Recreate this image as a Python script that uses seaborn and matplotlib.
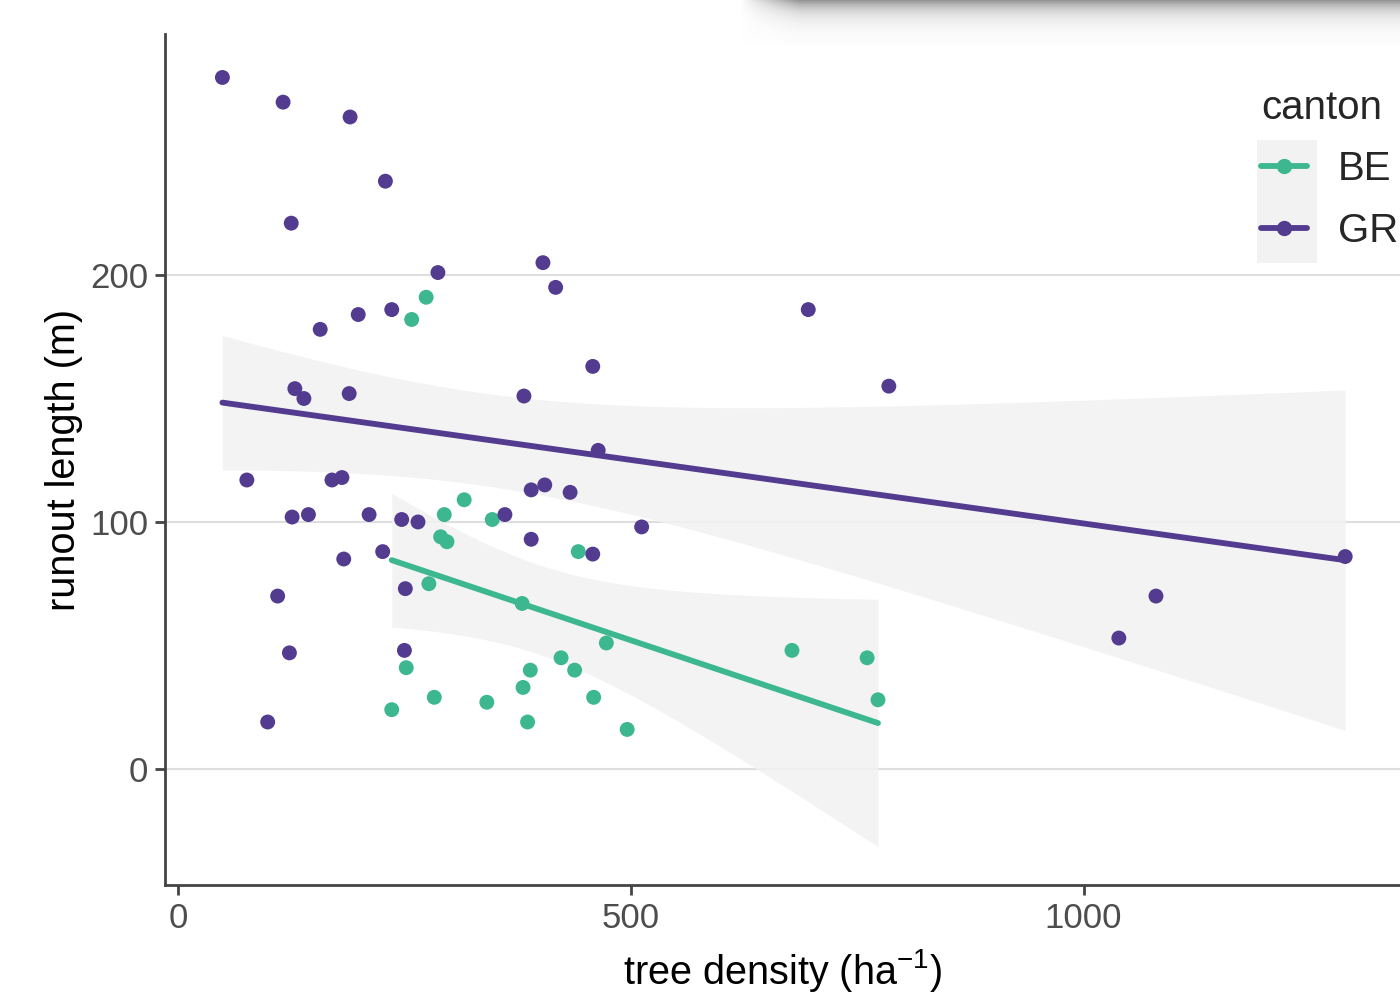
import numpy as np
import pandas as pd
import seaborn as sns
import matplotlib.pyplot as plt
from matplotlib.lines import Line2D
from matplotlib.patches import Rectangle

## data

gr_density = [49, 116, 190, 229, 125, 287, 403, 417, 236, 199, 696, 157, 458, 785, 129,
              139, 189, 382, 464, 76, 170, 181, 390, 405, 433, 126, 144, 211, 247, 265,
              361, 512, 390, 226, 458, 183, 251, 110, 1080, 123, 250, 1039, 99, 1289]
gr_runout = [280, 270, 264, 238, 221, 201, 205, 195, 186, 184, 186, 178, 163, 155, 154,
             150, 152, 151, 129, 117, 117, 118, 113, 115, 112, 102, 103, 103, 101, 100,
             103, 98, 93, 88, 87, 85, 73, 70, 70, 47, 48, 53, 19, 86]

be_density = [274, 258, 316, 294, 347, 290, 297, 442, 277, 380, 252, 389, 423, 438, 473,
              678, 761, 773, 381, 283, 341, 459, 236, 386, 496]
be_runout = [191, 182, 109, 103, 101, 94, 92, 88, 75, 67, 41, 40, 45, 40, 51,
             48, 45, 28, 33, 29, 27, 29, 24, 19, 16]

cantons = ["BE", "GR"]
palette = {"BE": "#3DB78F", "GR": "#533B90"}

df = pd.DataFrame({
    "density": be_density + gr_density,
    "runout": be_runout + gr_runout,
    "canton": ["BE"] * len(be_density) + ["GR"] * len(gr_density),
})


def t_quantile(df_resid, p=0.975):
    try:
        from scipy import stats
        return stats.t.ppf(p, df_resid)
    except ImportError:
        z = 1.959964
        return (z + (z**3 + z) / (4 * df_resid)
                + (5 * z**5 + 16 * z**3 + 3 * z) / (96 * df_resid**2))


def lm_band(x, y, n=80):
    # same band as an lm smoother with a 95% confidence interval
    x = np.asarray(x, float)
    y = np.asarray(y, float)
    slope, icept = np.polyfit(x, y, 1)
    resid = y - (icept + slope * x)
    dof = len(x) - 2
    s = np.sqrt(np.sum(resid**2) / dof)
    grid = np.linspace(x.min(), x.max(), n)
    se = s * np.sqrt(1 / len(x) + (grid - x.mean())**2 / np.sum((x - x.mean())**2))
    fit = icept + slope * grid
    t = t_quantile(dof)
    return grid, fit - t * se, fit + t * se


## style

sns.set_style("white")
plt.rcParams["font.family"] = ["Liberation Sans", "DejaVu Sans"]
plt.rcParams["mathtext.fontset"] = "custom"
plt.rcParams["mathtext.rm"] = "Liberation Sans"

fig = plt.figure(figsize=(14, 9.94), dpi=100)
ax = fig.add_axes([165 / 1400, 1 - 885 / 994, 1 - 165 / 1400, (885 - 34) / 994])

# regression lines with confidence bands
for c in cantons:
    sub = df[df["canton"] == c]
    grid, lo, hi = lm_band(sub["density"], sub["runout"])
    ax.fill_between(grid, lo, hi, color="#F2F2F2", alpha=0.9, linewidth=0, zorder=1)
    sns.regplot(data=sub, x="density", y="runout", ax=ax, scatter=False,
                color=palette[c], ci=None, line_kws={"linewidth": 4.2, "zorder": 4})

sns.scatterplot(data=df, x="density", y="runout", hue="canton", palette=palette,
                s=115, linewidth=0, ax=ax, legend=False, zorder=3)

ax.set_xlim(-14.4, 1349.5)
ax.set_ylim(-47, 297.6)
ax.set_xticks([0, 500, 1000])
ax.set_yticks([0, 100, 200])
ax.yaxis.grid(True, color="#DEDEDE", linewidth=1.5, zorder=0)
ax.xaxis.grid(False)
ax.set_axisbelow(True)

for side in ["top", "right"]:
    ax.spines[side].set_visible(False)
for side in ["left", "bottom"]:
    ax.spines[side].set_color("#444444")
    ax.spines[side].set_linewidth(2)

ax.tick_params(axis="both", length=7, width=2, color="#444444",
               labelsize=25, labelcolor="#4D4D4D", pad=5, left=True, bottom=True)
ax.set_xlabel(r"tree density (ha$^{-1}$)", fontsize=28.5, color="black", labelpad=9)
ax.set_ylabel("runout length (m)", fontsize=28.5, color="black", labelpad=5)

# legend with grey key background
ax.add_patch(Rectangle((1257 / 1400, 1 - 263 / 994), 60 / 1400, 123 / 994,
                       transform=fig.transFigure, facecolor="#F2F2F2",
                       edgecolor="none", zorder=5, clip_on=False))
handles = [Line2D([], [], color=palette[c], linewidth=4.2, marker="o", markersize=10)
           for c in cantons]
leg = ax.legend(handles, cantons, title="canton", loc="upper left",
                bbox_to_anchor=(1241 / 1400, 1 - 69 / 994), bbox_transform=fig.transFigure,
                frameon=False, fontsize=29, title_fontsize=29, handlelength=1.15,
                handletextpad=0.75, labelspacing=0.58, alignment="left", borderpad=0)
leg.set_zorder(6)

# window shadow along the top right
h, w = 45, 660
yy = np.arange(h)[:, None]
xx = np.arange(w)[None, :]
dark = 0.42 * np.exp(-yy / 11.0) * np.clip(xx / 60.0, 0, 1)
shade = np.dstack([1 - dark] * 3)
sax = fig.add_axes([740 / 1400, 1 - h / 994, w / 1400, h / 994])
sax.imshow(shade, aspect="auto", interpolation="bilinear")
sax.axis("off")

fig.savefig("out.png", dpi=100)
